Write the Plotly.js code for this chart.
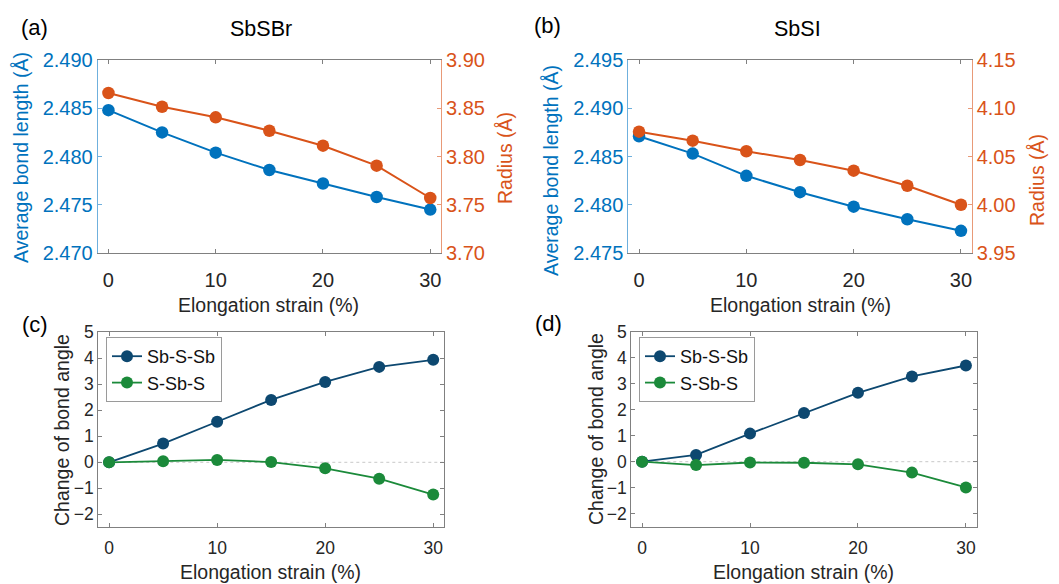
<!DOCTYPE html>
<html><head><meta charset="utf-8">
<script src="https://cdn.plot.ly/plotly-3.0.1.min.js"></script>
<style>html,body{margin:0;padding:0;background:#fff}#chart{width:1059px;height:584px}</style>
</head><body><div id="chart"></div><script>
// ---- data ----
const strain = [0, 5, 10, 15, 20, 25, 30];
const sbsbrBond = [2.4848, 2.4825, 2.4804, 2.4786, 2.4772, 2.4758, 2.4745];
const sbsbrRadius = [3.8658, 3.8516, 3.8406, 3.8267, 3.8112, 3.7905, 3.757];
const sbsiBond = [2.4871, 2.4853, 2.4830, 2.4813, 2.4798, 2.4785, 2.4773];
const sbsiRadius = [4.0757, 4.0664, 4.0554, 4.0464, 4.0353, 4.0197, 4.000];
const sbsbrSbSSb = [0, 0.72, 1.56, 2.40, 3.09, 3.67, 3.94];
const sbsbrSSbS = [0, 0.04, 0.09, 0.01, -0.23, -0.63, -1.24];
const sbsiSbSSb = [0, 0.26, 1.08, 1.87, 2.65, 3.28, 3.70];
const sbsiSSbS = [0, -0.13, -0.03, -0.04, -0.10, -0.42, -0.99];
const xTicks = [0, 10, 20, 30];
const angleTicks = [-2, -1, 0, 1, 2, 3, 4, 5];
const bondTicksA = [2.470, 2.475, 2.480, 2.485, 2.490];
const radiusTicksA = [3.70, 3.75, 3.80, 3.85, 3.90];
const bondTicksB = [2.475, 2.480, 2.485, 2.490, 2.495];
const radiusTicksB = [3.95, 4.00, 4.05, 4.10, 4.15];
const seriesNames = ['Sb-S-Sb', 'S-Sb-S'];
const panelTitles = ['SbSBr', 'SbSI'];
const panelLabels = ['(a)', '(b)', '(c)', '(d)'];
const xTitle = 'Elongation strain (%)';
const bondTitle = 'Average bond length (Å)';
const radiusTitle = 'Radius (Å)';
const angleTitle = 'Change of bond angle';

// ---- style ----
const FONT = 'Liberation Sans, Arial, Helvetica, sans-serif';
const BLUE = '#0072BD', ORANGE = '#D95319', NAVY = '#0D4870', GREEN = '#1B8A3A';
const AX = '#808080', TXT = '#262626';

function W(px){return px/1059;}
function H(py){return 1 - py/584;}

function line(x, y, xa, ya, color, name, legend, width, msize, show){
  return {x:x, y:y, xaxis:xa, yaxis:ya, type:'scatter', mode:'lines+markers', name:name,
    showlegend:!!show, legend:legend,
    line:{color:color, width:width}, marker:{color:color, size:msize}};
}

const traces = [
  line(strain, sbsbrBond, 'x', 'y', BLUE, 'bond', 'legend', 2, 12.5, false),
  line(strain, sbsbrRadius, 'x', 'y2', ORANGE, 'radius', 'legend', 2, 12.5, false),
  line(strain, sbsiBond, 'x2', 'y3', BLUE, 'bond', 'legend', 2, 12.5, false),
  line(strain, sbsiRadius, 'x2', 'y4', ORANGE, 'radius', 'legend', 2, 12.5, false),
  line(strain, sbsbrSbSSb, 'x3', 'y5', NAVY, seriesNames[0], 'legend', 1.8, 12, true),
  line(strain, sbsbrSSbS, 'x3', 'y5', GREEN, seriesNames[1], 'legend', 1.8, 12, true),
  line(strain, sbsiSbSSb, 'x4', 'y6', NAVY, seriesNames[0], 'legend2', 1.8, 12, true),
  line(strain, sbsiSSbS, 'x4', 'y6', GREEN, seriesNames[1], 'legend2', 1.8, 12, true)
];

function xa(domain, anchor, fs, standoff){
  return {domain:domain, anchor:anchor, range:[-1,31], tickvals:xTicks, ticks:'inside', ticklen:4,
    tickcolor:AX, showline:true, linecolor:AX, linewidth:1, mirror:'ticks', showgrid:false, zeroline:false,
    ticklabelstandoff:standoff, tickfont:{family:FONT, size:fs, color:TXT}, fixedrange:true};
}
function ya(domain, anchor, range, tickvals, fmt, color, lineColor, fs, side, overlay, mirror){
  const o = {domain:domain, anchor:anchor, range:range, tickvals:tickvals, tickformat:fmt,
    ticks:'inside', ticklen:4, tickcolor:lineColor, showline:true, linecolor:lineColor, linewidth:1,
    showgrid:false, zeroline:false, tickfont:{family:FONT, size:fs, color:color}, side:side||'left',
    mirror:mirror||false, fixedrange:true};
  if (overlay) o.overlaying = overlay;
  return o;
}

const dA = [W(97.7), W(441)], dB = [W(628.3), W(971.7)];
const dC = [W(98.3), W(444)], dD = [W(631.3), W(976.7)];
const yTop = [H(253), H(60)];
const yC = [H(527.3), H(332.3)], yD = [H(526.7), H(331.7)];

const layout = {
  width:1059, height:584, margin:{l:0, r:0, t:0, b:0}, paper_bgcolor:'#fff', plot_bgcolor:'#fff',
  font:{family:FONT, color:TXT},
  xaxis: xa(dA, 'y', 20, 9),
  yaxis: ya(yTop, 'x', [2.470, 2.490], bondTicksA, '.3f', BLUE, '#6fb0dd', 20),
  yaxis2: ya(yTop, 'x', [3.70, 3.90], radiusTicksA, '.2f', ORANGE, '#e89a78', 20, 'right', 'y'),
  xaxis2: xa(dB, 'y3', 20, 9),
  yaxis3: ya(yTop, 'x2', [2.475, 2.495], bondTicksB, '.3f', BLUE, '#6fb0dd', 20),
  yaxis4: ya(yTop, 'x2', [3.95, 4.15], radiusTicksB, '.2f', ORANGE, '#e89a78', 20, 'right', 'y3'),
  xaxis3: xa(dC, 'y5', 17.5, 5),
  yaxis5: ya(yC, 'x3', [-2.5, 5], angleTicks, 'd', TXT, AX, 17.5, 'left', null, 'ticks'),
  xaxis4: xa(dD, 'y6', 17.5, 5),
  yaxis6: ya(yD, 'x4', [-2.5, 5], angleTicks, 'd', TXT, AX, 17.5, 'left', null, 'ticks'),
  legend: {x:W(106), y:H(337), xanchor:'left', yanchor:'top', bgcolor:'#fff', bordercolor:'#9a9a9a', borderwidth:1,
    font:{family:FONT, size:18, color:'#111'}, tracegroupgap:0, itemwidth:30},
  legend2: {x:W(639), y:H(337), xanchor:'left', yanchor:'top', bgcolor:'#fff', bordercolor:'#9a9a9a', borderwidth:1,
    font:{family:FONT, size:18, color:'#111'}, tracegroupgap:0, itemwidth:30},
  shapes: [
    {type:'line', xref:'x3 domain', yref:'y5', x0:0, x1:1, y0:0, y1:0, line:{color:'#c8c8c8', width:1, dash:'dot'}, layer:'below'},
    {type:'line', xref:'x4 domain', yref:'y6', x0:0, x1:1, y0:0, y1:0, line:{color:'#c8c8c8', width:1, dash:'dot'}, layer:'below'}
  ],
  annotations: []
};

function ann(text, px, py, size, color, angle){
  layout.annotations.push({text:text, xref:'paper', yref:'paper', x:W(px), y:H(py), xanchor:'center', yanchor:'middle',
    showarrow:false, textangle:angle||0, font:{family:FONT, size:size, color:color}});
}
ann(panelLabels[0], 34, 28, 22, '#000');
ann(panelLabels[1], 547, 26, 22, '#000');
ann(panelLabels[2], 35, 325, 22, '#000');
ann(panelLabels[3], 548, 323, 22, '#000');
ann(panelTitles[0], 261, 29, 21.5, '#000');
ann(panelTitles[1], 797, 29, 21.5, '#000');
ann(xTitle, 268, 305, 19.5, TXT);
ann(xTitle, 800, 305, 19.5, TXT);
ann(xTitle, 270, 572, 19.5, TXT);
ann(xTitle, 803, 572, 19.5, TXT);
ann(bondTitle, 21, 158, 19.5, BLUE, -90);
ann(radiusTitle, 505, 158, 19.5, ORANGE, -90);
ann(bondTitle, 551, 171, 19.5, BLUE, -90);
ann(radiusTitle, 1037, 180, 19.5, ORANGE, -90);
ann(angleTitle, 62, 430, 19.5, TXT, -90);
ann(angleTitle, 596, 429, 19.5, TXT, -90);

Plotly.newPlot('chart', traces, layout, {staticPlot:true, displayModeBar:false});
</script></body></html>
